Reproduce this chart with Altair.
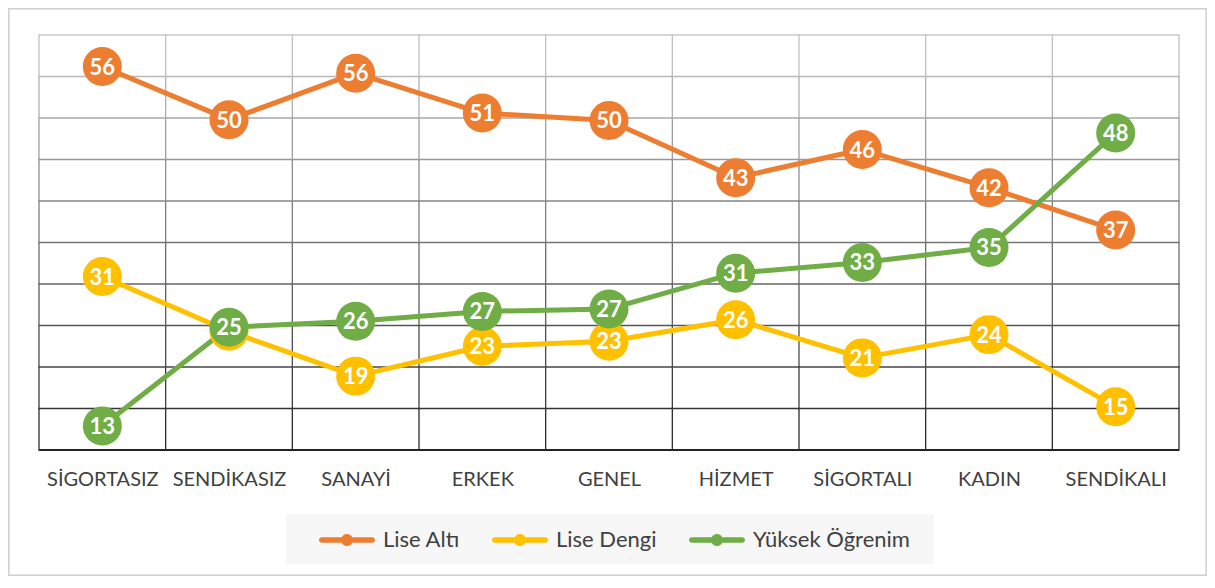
import altair as alt
import pandas as pd

# ---------------- data ----------------
categories = ["SİGORTASIZ", "SENDİKASIZ", "SANAYİ", "ERKEK", "GENEL",
              "HİZMET", "SİGORTALI", "KADIN", "SENDİKALI"]
series_names = ["Lise Altı", "Lise Dengi", "Yüksek Öğrenim"]

lise_alti = [56.2, 49.8, 55.4, 50.6, 49.7, 42.8, 46.2, 41.6, 36.5]
lise_alti_labels = [56, 50, 56, 51, 50, 43, 46, 42, 37]

lise_dengi = [30.9, 24.3, 18.9, 22.5, 23.1, 25.7, 21.1, 23.9, 15.2]
lise_dengi_labels = [31, 25, 19, 23, 23, 26, 21, 24, 15]

yuksek = [12.9, 24.8, 25.5, 26.7, 27.0, 31.3, 32.6, 34.4, 48.2]
yuksek_labels = [13, 25, 26, 27, 27, 31, 33, 35, 48]

series_colors = ["#ED7D31", "#FFC000", "#70AD47"]
y_ticks = [10, 15, 20, 25, 30, 35, 40, 45, 50, 55, 60]

# ---------------- tables ----------------
rows = []
for s_i, (name, vals, labs) in enumerate(zip(series_names,
                                             [lise_alti, lise_dengi, yuksek],
                                             [lise_alti_labels, lise_dengi_labels, yuksek_labels])):
    for i, (v, l) in enumerate(zip(vals, labs)):
        rows.append({"idx": i, "cat": categories[i], "series": name,
                     "value": v, "label": str(l)})
df = pd.DataFrame(rows)

hgrid_df = pd.DataFrame({"y": y_ticks})
vseg = []
for b in range(len(categories) + 1):
    for k in range(len(y_ticks) - 1):
        vseg.append({"xb": b - 0.5, "y1": y_ticks[k], "y2": y_ticks[k + 1]})
vseg_df = pd.DataFrame(vseg)

W, H = 1140, 415
ymin, ymax = y_ticks[0], y_ticks[-1]
xscale = alt.Scale(domain=[-0.5, len(categories) - 0.5], nice=False, zero=False)
yscale = alt.Scale(domain=[ymin, ymax], nice=False, zero=False)
fscale = alt.Scale(domain=series_names, range=series_colors)

label_expr = "[" + ",".join("'%s'" % c for c in categories) + "][datum.value]"
x_axis = alt.Axis(values=list(range(len(categories))), labelExpr=label_expr,
                  title=None, grid=False, ticks=False, domain=False,
                  labelFont="Lato", labelFontSize=20, labelColor="#404040",
                  labelPadding=19, labelFlush=False, labelOverlap=False)

sym_path = ("M-1.8,-0.2 L1.8,-0.2 A0.2,0.2 0 0,1 1.8,0.2 L-1.8,0.2 "
            "A0.2,0.2 0 0,1 -1.8,-0.2 Z "
            "M-0.43,0 A0.43,0.43 0 1,1 0.43,0 A0.43,0.43 0 1,1 -0.43,0 Z")
legend = alt.Legend(title=None, orient="none", legendX=294, legendY=491,
                    direction="horizontal", symbolType=sym_path,
                    symbolSize=784, symbolStrokeWidth=0, symbolOpacity=1,
                    labelFont="Lato", labelFontSize=22,
                    labelColor="#404040", labelOffset=22,
                    columnPadding=32, padding=0, labelLimit=400)

gray_expr = "round(200 - 165 * ({ymax} - {v}) / ({ymax} - {ymin}))"

# border of the whole chart
border = alt.Chart(alt.Data(values=[{"a": 1}])).mark_rect(
    fillOpacity=0, stroke="#cfcfcf", strokeWidth=1.5
).encode(x=alt.value(-30.2), x2=alt.value(1167.2),
         y=alt.value(-26.2), y2=alt.value(540.2))

# legend background
legend_box = alt.Chart(alt.Data(values=[{"a": 1}])).mark_rect(
    fill="#f7f7f7"
).encode(x=alt.value(247), x2=alt.value(895),
         y=alt.value(479), y2=alt.value(529))

g_h = gray_expr.format(ymax=ymax, ymin=ymin, v="datum.y")
hgrid = alt.Chart(hgrid_df).transform_calculate(
    g=g_h
).transform_calculate(
    col="'rgb(' + datum.g + ',' + datum.g + ',' + datum.g + ')'"
).mark_rule().encode(
    y=alt.Y("y:Q", scale=yscale, axis=None),
    color=alt.Color("col:N", scale=None, legend=None),
    strokeWidth=alt.condition("datum.y == %d" % ymin, alt.value(2.2), alt.value(1.3)),
)

g_v = gray_expr.format(ymax=ymax, ymin=ymin, v="((datum.y1 + datum.y2) / 2)")
vgrid = alt.Chart(vseg_df).transform_calculate(
    g=g_v
).transform_calculate(
    col="'rgb(' + datum.g + ',' + datum.g + ',' + datum.g + ')'"
).mark_rule(strokeWidth=1.3, strokeCap="square").encode(
    x=alt.X("xb:Q", scale=xscale, axis=x_axis),
    y=alt.Y("y1:Q", scale=yscale, axis=None),
    y2="y2:Q",
    color=alt.Color("col:N", scale=None, legend=None),
)

layers = [border, legend_box, hgrid, vgrid]
for name, col in zip(series_names, series_colors):
    ln = alt.Chart(df).transform_filter(
        alt.datum.series == name
    ).mark_line(strokeWidth=5, strokeJoin="round", color=col).encode(
        x=alt.X("idx:Q", scale=xscale, axis=x_axis),
        y=alt.Y("value:Q", scale=yscale, axis=None),
        order="idx:Q",
    )
    layers.append(ln)

for name in series_names:
    pts = alt.Chart(df).transform_filter(
        alt.datum.series == name
    ).mark_circle(size=1520, opacity=1, strokeWidth=0).encode(
        x=alt.X("idx:Q", scale=xscale, axis=x_axis),
        y=alt.Y("value:Q", scale=yscale, axis=None),
        fill=alt.Fill("series:N", scale=fscale, legend=legend),
    )
    txt = alt.Chart(df).transform_filter(
        alt.datum.series == name
    ).mark_text(font="Lato", fontWeight="bold", fontSize=22,
                color="white", baseline="middle", dy=1).encode(
        x=alt.X("idx:Q", scale=xscale, axis=x_axis),
        y=alt.Y("value:Q", scale=yscale, axis=None),
        text="label:N",
    )
    layers += [pts, txt]

chart = alt.layer(*layers).properties(
    width=W, height=H,
    padding={"left": 31, "top": 27, "right": 28, "bottom": 126},
    autosize=alt.AutoSizeParams(type="none"),
).configure_view(stroke=None)

chart.save("out.html", embed_options={"renderer": "svg", "actions": False})
